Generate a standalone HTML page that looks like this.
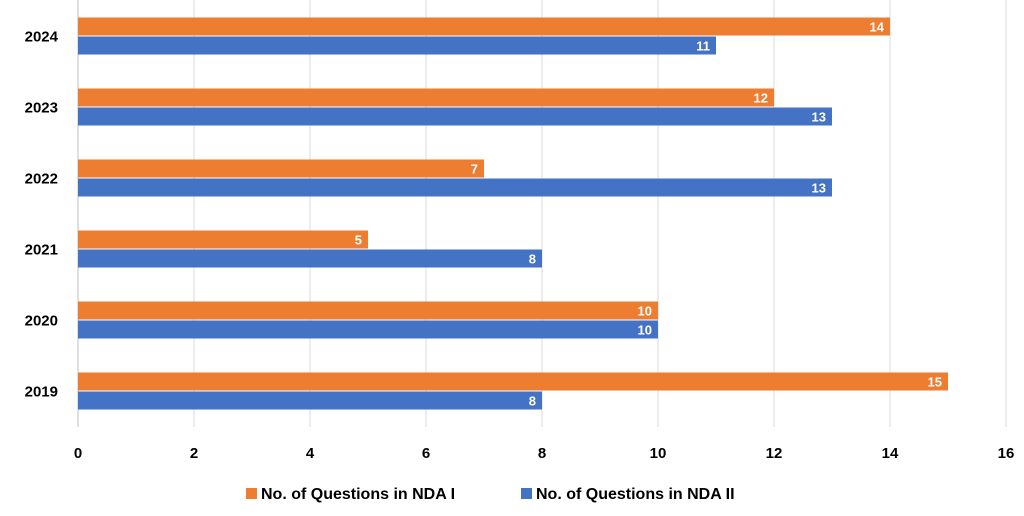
<!DOCTYPE html>
<html><head><meta charset="utf-8"><style>
body{margin:0;background:#fff;font-family:"Liberation Sans",sans-serif;}
svg text{font-family:"Liberation Sans",sans-serif;font-weight:bold;}
</style></head><body>
<svg id="chart" width="1024" height="511"></svg>
<script>
const categories=["2024","2023","2022","2021","2020","2019"];
const nda1=[14,12,7,5,10,15];
const nda2=[11,13,13,8,10,8];
const ticks=[0,2,4,6,8,10,12,14,16];
const svgEl=document.getElementById('chart');
const NS='http://www.w3.org/2000/svg';
const x0=78,ux=58,plotTop=0,band=71;
const xs=v=>x0+v*ux;
function mk(t,a){const e=document.createElementNS(NS,t);for(const k in a)e.setAttribute(k,a[k]);svgEl.appendChild(e);return e;}
ticks.forEach(t=>{
 const g=mk('line',{x1:xs(t),x2:xs(t),y1:0,y2:427,stroke:t===0?'#bfbfbf':'#d9d9d9','stroke-width':1});
 
 
 const l=mk('text',{x:xs(t),y:458,'text-anchor':'middle','font-size':15,fill:'#000'});l.textContent=t;
 
 
});
categories.forEach((c,i)=>{
 const cy=plotTop+band*i+band/2;
 const l=mk('text',{x:58,y:cy+6,'text-anchor':'end','font-size':15,fill:'#000'});l.textContent=c;
 
 
 [[nda1[i],'#ed7d31',cy-18,'nda1'],[nda2[i],'#4472c4',cy+1,'nda2']].forEach(([v,col,y,s])=>{
  const r=mk('rect',{x:x0,y:y,width:xs(v)-x0,height:18,fill:col});
  
  
  const t=mk('text',{x:xs(v)-6,y:y+14,'text-anchor':'end','font-size':13,fill:'#fff'});t.textContent=v;
  
  
 });
});
const legend=[["No. of Questions in NDA I",'#ed7d31',246],["No. of Questions in NDA II",'#4472c4',521]];
legend.forEach(([n,col,x],i)=>{
 const r=mk('rect',{x:x,y:488,width:11,height:11,fill:col});
 
 
 const t=mk('text',{x:x+15,y:499,'font-size':16,fill:'#000'});t.textContent=n;
 
 
});
</script>
</body></html>
